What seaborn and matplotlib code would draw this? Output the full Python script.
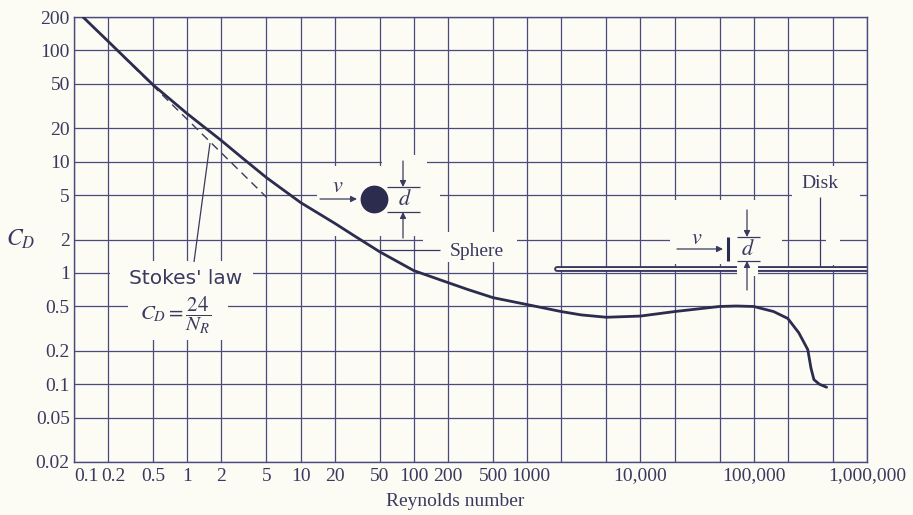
import numpy as np
import pandas as pd
import matplotlib
matplotlib.use("Agg")
import matplotlib.pyplot as plt
import seaborn as sns
from matplotlib.patches import Rectangle
from matplotlib.ticker import NullLocator
from matplotlib.transforms import ScaledTranslation
import matplotlib.patheffects as pe

# ---------------- data ----------------
re_sphere = [0.12, 0.2, 0.3, 0.5, 1, 2, 3, 5, 10, 20, 30, 50, 100, 200, 300, 500, 1000,
             2000, 3000, 5000, 10000, 20000, 50000, 70000, 100000, 150000, 200000,
             250000, 300000, 320000, 340000, 380000, 440000]
cd_sphere = [200, 121, 81, 49, 27, 15.5, 11.0, 7.2, 4.3, 2.8, 2.15, 1.55, 1.05, 0.82, 0.71,
             0.6, 0.52, 0.45, 0.42, 0.40, 0.41, 0.45, 0.50, 0.505, 0.50, 0.45, 0.39,
             0.29, 0.205, 0.14, 0.11, 0.10, 0.094]
stokes_re = [0.12, 5]
stokes_cd = [200, 4.8]
disk_re = [1850, 1e6]
disk_cd = [1.08, 1.08]

x_grid = [0.1, 0.2, 0.5, 1, 2, 5, 10, 20, 50, 100, 200, 500, 1000, 2000, 5000,
          10000, 20000, 50000, 100000, 200000, 500000, 1000000]
x_labels = ["0.1", "0.2", "0.5", "1", "2", "5", "10", "20", "50", "100", "200", "500",
            "1000", "", "", "10,000", "", "", "100,000", "", "", "1,000,000"]
y_grid = [0.02, 0.05, 0.1, 0.2, 0.5, 1, 2, 5, 10, 20, 50, 100, 200]
y_labels = ["0.02", "0.05", "0.1", "0.2", "0.5", "1", "2", "5", "10", "20", "50", "100", "200"]

# ---------------- style ----------------
sns.set_theme(style="white")
plt.rcParams["font.family"] = ["Liberation Serif", "DejaVu Serif"]
plt.rcParams["mathtext.fontset"] = "stix"

BG = "#fcfbf4"
INK = "#3a3a60"
CURVE = "#2c2c4e"
GRID = "#4a4a7c"

W, H = 913, 515
L, R, T, B = 74, 867, 17, 462
fig = plt.figure(figsize=(W / 100, H / 100), dpi=100, facecolor=BG)
ax = fig.add_axes([L / W, 1 - B / H, (R - L) / W, (B - T) / H])
ax.set_facecolor(BG)
ax.set_xscale("log")
ax.set_yscale("log")
ax.set_xlim(0.1, 1e6)
ax.set_ylim(0.02, 200)
ax.set_axisbelow(True)

ax.set_xticks(x_grid)
ax.set_xticklabels(x_labels)
ax.set_yticks(y_grid)
ax.set_yticklabels(y_labels)
ax.xaxis.set_minor_locator(NullLocator())
ax.yaxis.set_minor_locator(NullLocator())
ax.tick_params(axis="both", length=0, labelsize=14, labelcolor=INK)
ax.tick_params(axis="x", pad=4)
ax.tick_params(axis="y", pad=3)
ax.grid(True, which="major", color=GRID, lw=0.9)
for s in ax.spines.values():
    s.set_color(GRID)
    s.set_linewidth(1.0)
xt = ax.xaxis.get_major_ticks()
xt[0].label1.set_horizontalalignment("left")
xt[1].label1.set_transform(xt[1].label1.get_transform()
                           + ScaledTranslation(5 / 100, 0, fig.dpi_scale_trans))
xt[12].label1.set_transform(xt[12].label1.get_transform()
                            + ScaledTranslation(4 / 100, 0, fig.dpi_scale_trans))

# ---------------- data marks ----------------
df = pd.DataFrame({"Re": re_sphere, "CD": cd_sphere})
sns.lineplot(data=df, x="Re", y="CD", ax=ax, color=CURVE, lw=2.0, sort=False, zorder=3)
sdf = pd.DataFrame({"Re": stokes_re, "CD": stokes_cd})
sns.lineplot(data=sdf, x="Re", y="CD", ax=ax, color=INK, lw=1.0, zorder=2.5,
             dashes=False, linestyle=(0, (6, 4)))
ddf = pd.DataFrame({"Re": disk_re, "CD": disk_cd})
sns.lineplot(data=ddf, x="Re", y="CD", ax=ax, color=BG, lw=1.4, zorder=2.4,
             path_effects=[pe.Stroke(linewidth=4.2, foreground=INK), pe.Normal()])
ax.set_xlabel("")
ax.set_ylabel("")


# ---------------- annotation helpers (pixel -> axes fraction) ----------------
def A(px, py):
    return ((px - L) / (R - L), (B - py) / (B - T))


def white(x0, y0, x1, y1, z=1):
    ax.add_patch(Rectangle(A(x0, y1), (x1 - x0) / (R - L), (y1 - y0) / (B - T),
                           transform=ax.transAxes, facecolor=BG, edgecolor="none",
                           zorder=z, clip_on=False))


def seg(p0, p1, lw=0.9, color=INK, z=4):
    a, b = A(*p0), A(*p1)
    ax.plot([a[0], b[0]], [a[1], b[1]], transform=ax.transAxes, color=color,
            lw=lw, zorder=z, solid_capstyle="butt")


def arrow(tail, tip):
    ax.annotate("", xy=A(*tip), xytext=A(*tail), xycoords="axes fraction",
                textcoords="axes fraction",
                arrowprops=dict(arrowstyle="-|>", color=INK, lw=0.9,
                                mutation_scale=9, shrinkA=0, shrinkB=0), zorder=4)


def txt(px, py, s, **kw):
    ax.text(*A(px, py), s, transform=ax.transAxes, ha="center", va="center",
            color=INK, zorder=5, **kw)


# white-out regions behind labels and sketches
white(110, 261, 253, 292)
white(128, 292, 228, 340)
white(317, 166, 440, 236)
white(382, 155, 427, 166)
white(423, 232, 517, 262)
white(670, 200, 782, 264)
white(792, 166, 860, 200)
white(826, 200, 840, 265)
white(737, 262, 758, 276, z=2.6)

# Stokes' law label
txt(186, 279, "Stokes' law", fontsize=14.5, family=["DejaVu Sans"])
txt(176, 315, r"$C_D = \dfrac{24}{N_R}$", fontsize=15)
seg((194, 262), (210, 143))

# sphere sketch
arrow((320, 199), (357, 199))
txt(338, 188, r"$v$", fontsize=16)
ax.plot(*A(374, 199), marker="o", ms=19, color=CURVE, transform=ax.transAxes,
        zorder=4, ls="none")
seg((387, 187), (420, 187))
seg((387, 212), (420, 212))
arrow((403, 161), (403, 187))
arrow((403, 238), (403, 212))
txt(405, 200, r"$d$", fontsize=16)
seg((380, 250), (440, 250))
txt(477, 251, "Sphere", fontsize=14)

# disk sketch
arrow((677, 249), (723, 249))
txt(697, 239, r"$v$", fontsize=16)
seg((728, 237), (728, 261), lw=2.2, color=CURVE)
seg((737, 237), (760, 237))
seg((737, 261), (760, 261))
arrow((747, 210), (747, 237))
arrow((747, 290), (747, 261))
txt(748, 250, r"$d$", fontsize=16)
txt(820, 184, "Disk", fontsize=14)
seg((820, 197), (820, 266))

# axis titles
fig.text(455 / W, 1 - 501 / H, "Reynolds number", fontsize=14, color=INK,
         ha="center", va="center")
fig.text(21 / W, 1 - 239 / H, r"$C_D$", fontsize=17, color=INK, ha="center", va="center")

fig.savefig("out.png", dpi=100, facecolor=BG)
